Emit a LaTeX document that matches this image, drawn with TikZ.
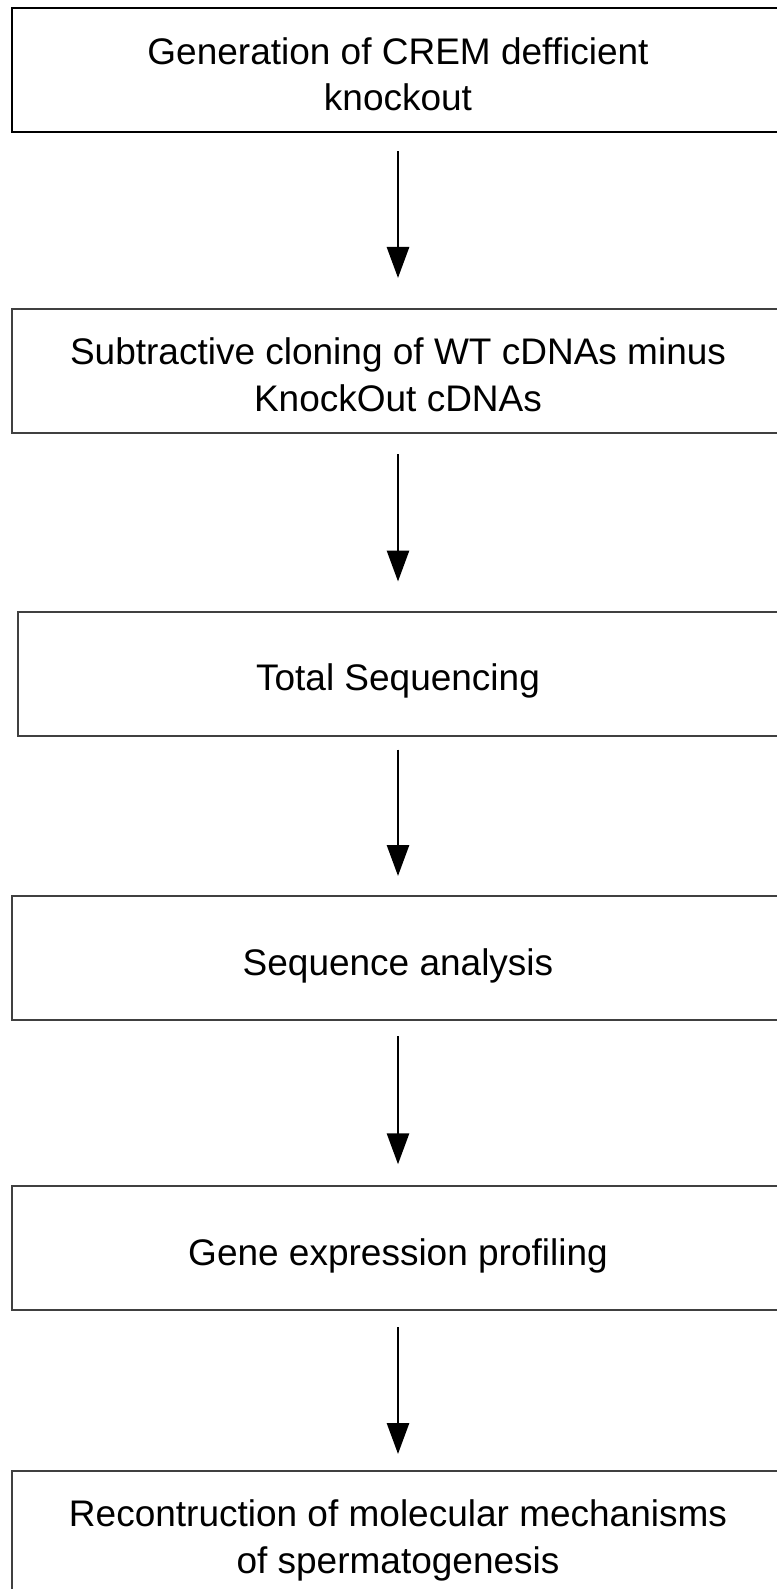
\documentclass[tikz,border=0pt]{standalone}
\usepackage{fontspec}
\setmainfont{Liberation Sans}
\usetikzlibrary{arrows.meta}
\newcommand{\boxtext}[1]{\raisebox{-14pt}[0pt][0pt]{\begin{tabular}{@{}c@{}}#1\end{tabular}}}
\tikzset{
  stagebox/.style={draw=black!75, line width=2pt, inner sep=0pt,
    minimum width=772pt, minimum height=124pt, font=\fontsize{37}{46.5}\selectfont},
  flowarrow/.style={line width=2.8pt, -{Triangle[length=31pt,width=22pt]}}
}
\begin{document}
\begin{tikzpicture}[x=1pt,y=-1pt]
\useasboundingbox[fill=white] (0,0) rectangle (776,1589);
\node[stagebox, draw=black] (b1) at (398,70.5) {\boxtext{Generation of CREM defficient\\knockout}};
\node[stagebox] (b2) at (398,371) {\boxtext{Subtractive cloning of WT cDNAs minus\\KnockOut cDNAs}};
\node[stagebox, minimum width=760pt] (b3) at (398,673.5) {\boxtext{Total Sequencing}};
\node[stagebox] (b4) at (398,958) {\boxtext{Sequence analysis}};
\node[stagebox] (b5) at (398,1248.3) {\boxtext{Gene expression profiling}};
\node[stagebox] (b6) at (398,1533) {\boxtext{Recontruction of molecular mechanisms\\of spermatogenesis}};
\draw[flowarrow] ([yshift=-18pt]b1.south) -- ([yshift=30pt]b2.north);
\draw[flowarrow] ([yshift=-20pt]b2.south) -- ([yshift=29pt]b3.north);
\draw[flowarrow] ([yshift=-13pt]b3.south) -- ([yshift=19pt]b4.north);
\draw[flowarrow] ([yshift=-15pt]b4.south) -- ([yshift=21pt]b5.north);
\draw[flowarrow] ([yshift=-16pt]b5.south) -- ([yshift=16pt]b6.north);
\end{tikzpicture}
\end{document}
